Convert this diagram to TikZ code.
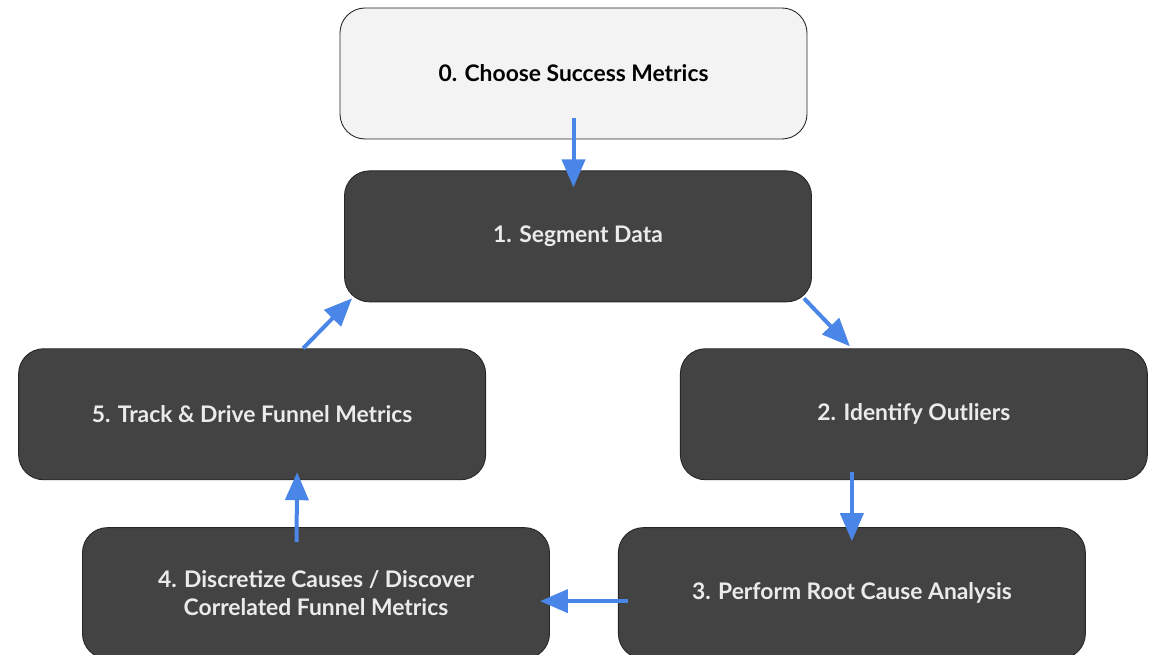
\documentclass[tikz,border=0pt]{standalone}
\usepackage{fontspec}
\setmainfont{Lato}
\usetikzlibrary{arrows.meta,positioning}
\definecolor{boxdark}{HTML}{434343}
\definecolor{boxlight}{HTML}{F3F3F3}
\definecolor{flowblue}{HTML}{4A86E8}
\tikzset{>={Triangle[length=0.56cm,width=0.46cm]}, node distance=1cm}
\tikzset{stage/.style={draw=black!85, line width=0.5pt, rounded corners=0.5cm, minimum width=9.34cm, minimum height=2.62cm, align=center, font=\fontsize{13}{15.5}\selectfont\bfseries}}
\tikzset{darkstage/.style={stage, fill=boxdark, text=white!92!black}}
\tikzset{lightstage/.style={stage, fill=boxlight, text=black}}
\tikzset{flow/.style={->, draw=flowblue, line width=0.08cm}}

\begin{document}
\begin{tikzpicture}
		\useasboundingbox (0,0) rectangle (23.16,13.08);

		\node [lightstage] at (11.47,11.61) (metrics) {0. Choose Success Metrics};
		\node [darkstage, below=0.62cm of metrics, xshift=0.09cm] (segment) {1. Segment Data};
		\node [darkstage, below right=0.92cm and -2.64cm of segment] (outliers) {2. Identify Outliers};
		\node [darkstage, below left=0.92cm and -2.84cm of segment] (track) {5. Track \& Drive Funnel Metrics};
		\node [darkstage, below=0.94cm of outliers, xshift=-1.24cm] (rootcause) {3. Perform Root Cause Analysis};
		\node [darkstage, left=1.36cm of rootcause] (discretize) {4. Discretize Causes / Discover\\Correlated Funnel Metrics};

		\draw [flow] ([yshift=0.42cm]metrics.south) -- ([yshift=-0.34cm]segment.north -| metrics.south);
		\draw [flow] ([xshift=-0.16cm,yshift=0.08cm]segment.south east) -- ([xshift=3.4cm,yshift=0.04cm]outliers.north west);
		\draw [flow] ([yshift=0.16cm]outliers.south -| rootcause.north) -- ([yshift=-0.28cm]rootcause.north);
		\draw [flow] ([xshift=0.2cm,yshift=-0.16cm]rootcause.west) -- ([xshift=-0.2cm,yshift=-0.16cm]discretize.east);
		\draw [flow] ([xshift=-0.39cm,yshift=-0.3cm]discretize.north) -- ([xshift=0.9cm,yshift=0.16cm]track.south);
		\draw [flow] ([xshift=1.02cm]track.north) -- ([xshift=0.16cm,yshift=0.08cm]segment.south west);
	\end{tikzpicture}
\end{document}
